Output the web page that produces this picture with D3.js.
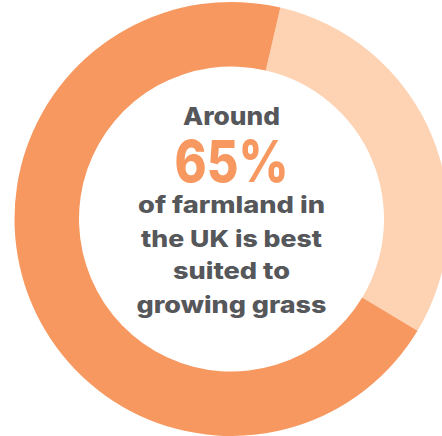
<!DOCTYPE html>
<html><head><meta charset="utf-8">
<script src="https://cdn.jsdelivr.net/npm/d3@7"></script>
<style>html,body{margin:0;padding:0;background:#fff;overflow:hidden}</style>
</head><body>
<svg id="c" width="442" height="436"></svg>
<script>
const categories = ["Other land", "Best suited to growing grass"];
const values = [30, 70];
const colors = ["#FDD3B4", "#F6985F"];
const headline = "Around";
const bigValue = "65%";
const bodyLines = ["of farmland in", "the UK is best", "suited to", "growing grass"];

const svg = d3.select("#c");
const cx = 231.5, cy = 219, rOuter = 217, rInner = 152.5;
const g = svg.append("g").attr("transform", `translate(${cx},${cy})`);

const pie = d3.pie().sort(null).value(d => d)
  .startAngle(13 * Math.PI / 180).endAngle(13 * Math.PI / 180 + 2 * Math.PI);
const arc = d3.arc().innerRadius(rInner).outerRadius(rOuter);
g.selectAll("path").data(pie(values)).join("path")
  .attr("d", arc).attr("fill", (d, i) => colors[i]);

const font = "Inter, Lato, 'Noto Sans', sans-serif";
const lines = [
  {t: headline, y: 125, size: 25, w: 97, fill: "#55575A"},
  {t: bigValue, y: 182, size: 58, w: 114, fill: "#F6985F"},
  ...bodyLines.map((t, i) => ({t, y: [213, 247, 279, 313][i], size: 23,
    w: [187, 181, 117, 190][i], fill: "#55575A"}))
];
const txt = g.append("text").attr("text-anchor", "middle")
  .attr("font-family", font).attr("font-weight", 800);
lines.forEach(l => {
  txt.append("tspan").text(l.t).attr("x", 0).attr("y", l.y - cy)
    .attr("font-size", l.size).attr("fill", l.fill)
    .attr("textLength", l.w).attr("lengthAdjust", "spacingAndGlyphs");
});
</script>
</body></html>
